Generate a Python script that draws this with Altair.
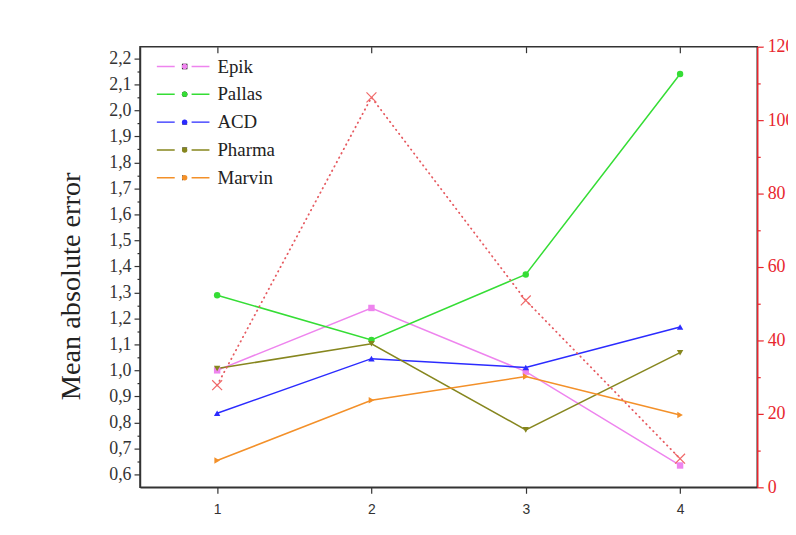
import altair as alt
import pandas as pd

# ---- data ----
x_values = [1, 2, 3, 4]
series_names = ["Epik", "Pallas", "ACD", "Pharma", "Marvin"]
epik = [1.00, 1.24, 0.995, 0.634]
pallas = [1.289, 1.117, 1.369, 2.14]
acd = [0.835, 1.045, 1.011, 1.167]
pharma = [1.007, 1.102, 0.771, 1.068]
marvin = [0.653, 0.885, 0.976, 0.828]
red_values = [27.8, 106.2, 50.9, 7.8]

# ---- tick values / labels ----
x_ticks = [1, 2, 3, 4]
left_ticks = [0.6, 0.65, 0.7, 0.75, 0.8, 0.85, 0.9, 0.95, 1.0, 1.05, 1.1, 1.15,
              1.2, 1.25, 1.3, 1.35, 1.4, 1.45, 1.5, 1.55, 1.6, 1.65, 1.7, 1.75,
              1.8, 1.85, 1.9, 1.95, 2.0, 2.05, 2.1, 2.15, 2.2]
right_ticks = [0, 10, 20, 30, 40, 50, 60, 70, 80, 90, 100, 110, 120]

# ---- styles ----
series_colors = ["#ee84ee", "#35dd35", "#2b2bff", "#86861e", "#f39029"]
series_shapes = ["square", "circle", "triangle-up", "triangle-down", "triangle-right"]
red_color = "#e8262e"

all_series = [epik, pallas, acd, pharma, marvin]
rows = []
for name, vals in zip(series_names, all_series):
    for xv, v in zip(x_values, vals):
        rows.append({"x": xv, "value": v, "series": name})
df = pd.DataFrame(rows)
df_red = pd.DataFrame({"x": x_values, "value": red_values})

xscale = alt.Scale(domain=[0.5, 4.5], nice=False, zero=False)
yleft = alt.Scale(domain=[0.55, 2.245], nice=False, zero=False)
yright = alt.Scale(domain=[0, 120], nice=False, zero=False)

minor_left = "round(datum.value*20)%2==1"
left_axis = alt.Axis(
    values=left_ticks,
    labelExpr=minor_left + " ? '' : replace(format(datum.value, '.1f'), '.', ',')",
    tickSize={"condition": {"test": minor_left, "value": 3}, "value": 6},
    labelFont="Liberation Serif", labelFontSize=18, labelColor="#333",
    labelPadding=3, labelOverlap=False, labelFlush=False,
    domainColor="#333", domainWidth=1.5, tickColor="#333", tickWidth=1.2,
    grid=False, title="Mean absolute error", titleFont="Liberation Serif",
    titleFontSize=28.5, titleFontWeight="normal", titleColor="#222",
    titlePadding=23, titleY=241,
)
bottom_axis = alt.Axis(
    values=x_ticks, format="d", labelFont="Liberation Sans", labelFontSize=14,
    labelColor="#333", tickSize=6, tickColor="#333", tickWidth=1.2,
    domainColor="#333", domainWidth=1.5, labelPadding=9, title=None, grid=False,
)
top_axis = alt.Axis(
    orient="top", offset=-6, values=x_ticks, domain=False, labels=False,
    tickSize=6, tickColor="#333", tickWidth=1.2, title=None, grid=False,
)
minor_right = "datum.value % 20 != 0"
right_axis = alt.Axis(
    orient="right", values=right_ticks,
    labelExpr=minor_right + " ? '' : format(datum.value, 'd')",
    tickSize={"condition": {"test": minor_right, "value": 3}, "value": 6},
    labelFont="Liberation Serif", labelFontSize=18, labelColor=red_color,
    labelPadding=4, labelOverlap=False, labelFlush=False,
    domainColor=red_color, domainWidth=1.5, tickColor=red_color, tickWidth=1.2,
    grid=False, title=None,
)

legend_common = dict(
    orient="none", legendY=6, title=None, padding=0,
    clipHeight=28, rowPadding=0, labelFont="Liberation Serif",
    labelFontSize=19, labelColor="#222",
)
marker_legend = alt.Legend(legendX=35.5, symbolSize=30, symbolOpacity=1,
                           labelExpr="''", labelOpacity=0, labelOffset=0,
                           **legend_common)

base = alt.Chart(df)
lines = base.mark_line(strokeWidth=1.5).encode(
    x=alt.X("x:Q", scale=xscale, axis=bottom_axis),
    y=alt.Y("value:Q", scale=yleft, axis=left_axis),
    color=alt.Color(
        "series:N", scale=alt.Scale(domain=series_names, range=series_colors),
        legend=alt.Legend(legendX=16, symbolSize=2809, symbolDash=[18, 17],
                          symbolStrokeWidth=1.5, labelOffset=7, **legend_common),
    ),
)
points = base.mark_point(filled=True, size=42, opacity=1).encode(
    x=alt.X("x:Q", scale=xscale, axis=bottom_axis),
    y=alt.Y("value:Q", scale=yleft, axis=left_axis),
    color=alt.Color(
        "series:N", scale=alt.Scale(domain=series_names, range=series_colors),
        legend=marker_legend,
    ),
    shape=alt.Shape(
        "series:N", scale=alt.Scale(domain=series_names, range=series_shapes),
        legend=marker_legend,
    ),
)
left = alt.layer(lines, points).resolve_scale(color="independent")

red = alt.Chart(df_red)
red_line = red.mark_line(color="#e65a60", strokeWidth=1.8, strokeDash=[0.5, 4.5], strokeCap="round").encode(
    x=alt.X("x:Q", scale=xscale, axis=top_axis),
    y=alt.Y("value:Q", scale=yright, axis=right_axis),
)
red_pts = red.mark_point(shape="M-1,-1L1,1M1,-1L-1,1", size=100, color="#f06868",
                         strokeWidth=1.2, filled=False, opacity=1).encode(
    x=alt.X("x:Q", scale=xscale, axis=top_axis),
    y=alt.Y("value:Q", scale=yright, axis=right_axis),
)
right = alt.layer(red_line, red_pts)

chart = (
    alt.layer(left, right)
    .resolve_scale(y="independent", color="independent")
    .resolve_axis(x="independent", y="independent")
    .properties(
        width=622, height=444,
        autosize=alt.AutoSizeParams(type="none"),
        padding={"left": 133, "top": 37, "right": 31, "bottom": 40},
        background="white",
    )
    .configure_view(stroke="#333", strokeWidth=1.5)
)

chart.save("out.html", embed_options={"renderer": "svg", "actions": False})
